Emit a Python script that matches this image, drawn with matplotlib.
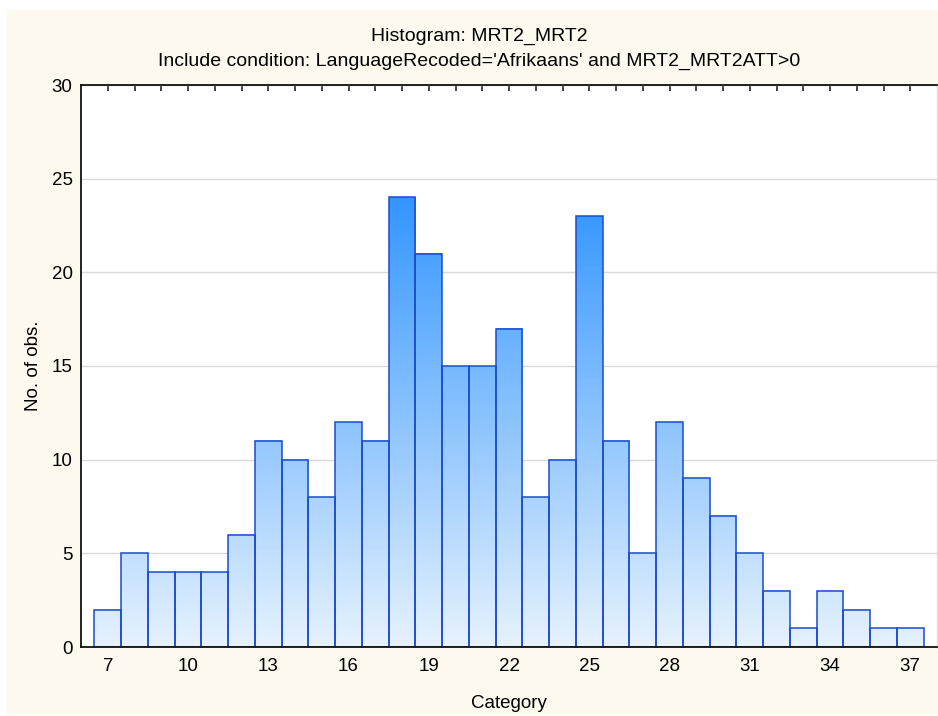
import numpy as np
import matplotlib
matplotlib.use("Agg")
import matplotlib.pyplot as plt
from matplotlib.patches import Rectangle
from matplotlib.colors import LinearSegmentedColormap

categories = list(range(7, 38))
counts = [2, 5, 4, 4, 4, 6, 11, 10, 8, 12, 11, 24, 21, 15, 15, 17, 8, 10, 23, 11,
          5, 12, 9, 7, 5, 3, 1, 3, 2, 1, 1]
xtick_labels = [7, 10, 13, 16, 19, 22, 25, 28, 31, 34, 37]
yticks = [0, 5, 10, 15, 20, 25, 30]

title1 = "Histogram: MRT2_MRT2"
title2 = "Include condition: LanguageRecoded='Afrikaans' and MRT2_MRT2ATT>0"

plt.rcParams['font.family'] = ['Liberation Sans', 'DejaVu Sans']
FS = 13.5

W, H = 938, 716
fig = plt.figure(figsize=(W / 100, H / 100), dpi=100)
fig.patch.set_facecolor('white')
cream = Rectangle((7 / W, 1 / H), 1 - 7 / W, 1 - 11 / H, transform=fig.transFigure,
                  facecolor='#FDF9EF', edgecolor='none', zorder=-10)
fig.patches.append(cream)

ax = fig.add_axes([81 / W, (H - 647) / H, (937 - 81) / W, (647 - 85) / H])
ax.set_facecolor('white')

cmap = LinearSegmentedColormap.from_list('g', ['#E6F2FD', '#3396FF'])
vmax = max(counts)
for c, n in zip(categories, counts):
    x0, x1 = c - 0.5, c + 0.5
    grad = np.linspace(0, n / vmax, 200).reshape(-1, 1)
    ax.imshow(grad, extent=(x0, x1, 0, n), origin='lower', aspect='auto',
              cmap=cmap, vmin=0, vmax=1, zorder=2, interpolation='bilinear')
ax.bar(categories, counts, width=1.0, facecolor='none', edgecolor='#1A4CCB',
       linewidth=1.1, zorder=3)
ax.set_xlim(6, 38)
ax.set_ylim(0, 30)

ax.set_yticks(yticks)
ax.yaxis.grid(True, color='#D9D9D9', linewidth=1.0, zorder=1)
ax.set_axisbelow(True)
ax.set_xticks(categories)
ax.set_xticklabels([str(c) if c in xtick_labels else '' for c in categories])
ax.tick_params(axis='x', direction='in', length=4, width=1.2, color='#222222',
               top=True, bottom=True, labelsize=FS, pad=8)
ax.tick_params(axis='y', length=0, labelsize=FS, pad=6)

for s in ['left', 'bottom', 'top']:
    ax.spines[s].set_color('#111111')
    ax.spines[s].set_linewidth(1.3)
ax.spines['right'].set_color('#DDDDDD')
ax.spines['right'].set_linewidth(1.0)
for sp in ax.spines.values():
    sp.set_zorder(5)

ax.set_xlabel('Category', fontsize=FS, labelpad=14)
ax.set_ylabel('No. of obs.', fontsize=FS, labelpad=7)

fig.text(479 / W, 1 - 36 / H, title1, ha='center', va='center', fontsize=14)
fig.text(479 / W, 1 - 61 / H, title2, ha='center', va='center', fontsize=14)

fig.savefig('out.png', dpi=100, facecolor=fig.get_facecolor())
